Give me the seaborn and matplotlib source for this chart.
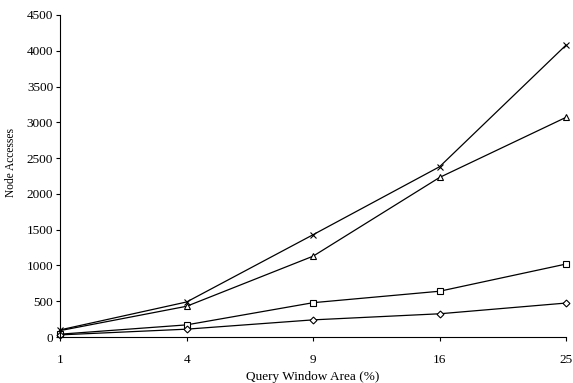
import matplotlib
import pandas as pd
import seaborn as sns
from matplotlib import pyplot as plt

matplotlib.use("Agg")

area = ["1", "4", "9", "16", "25"]
cross = [100, 490, 1430, 2380, 4080]
triangle = [90, 430, 1130, 2230, 3070]
square = [40, 170, 480, 640, 1020]
diamond = [30, 110, 240, 325, 475]

series = {"cross": cross, "triangle": triangle, "square": square, "diamond": diamond}
markers = {"cross": "x", "triangle": "^", "square": "s", "diamond": "D"}
sizes = {"cross": 5, "triangle": 4.5, "square": 4.5, "diamond": 3.5}

sns.set_theme(style="ticks")
plt.rcParams["font.family"] = ["Liberation Serif", "DejaVu Serif"]

fig = plt.figure(figsize=(5.73, 3.83), dpi=100)
ax = fig.add_axes([0.105, 0.12, 0.883, 0.841])

for name, values in series.items():
    df = pd.DataFrame({"area": area, "accesses": values})
    sns.lineplot(
        data=df, x="area", y="accesses", ax=ax, color="black", linewidth=0.9,
        marker=markers[name], markersize=sizes[name], markerfacecolor="white",
        markeredgecolor="black", markeredgewidth=0.8, clip_on=False,
    )

ax.set_xlim(0, 4)
ax.set_ylim(0, 4500)
ax.set_yticks(range(0, 4501, 500))
ax.set_xlabel("Query Window Area (%)", fontsize=9.5, color="black", labelpad=4)
ax.set_ylabel("Node Accesses", fontsize=8.3, color="black")
ax.yaxis.set_label_coords(-0.085, 0.543)
ax.tick_params(labelsize=9.5, colors="black", length=3, width=0.8)
ax.tick_params(axis="x", pad=9)
ax.tick_params(axis="y", pad=2)
sns.despine(ax=ax)
for side in ["left", "bottom"]:
    ax.spines[side].set_color("black")
    ax.spines[side].set_linewidth(0.8)

fig.savefig("out.png", dpi=100)
